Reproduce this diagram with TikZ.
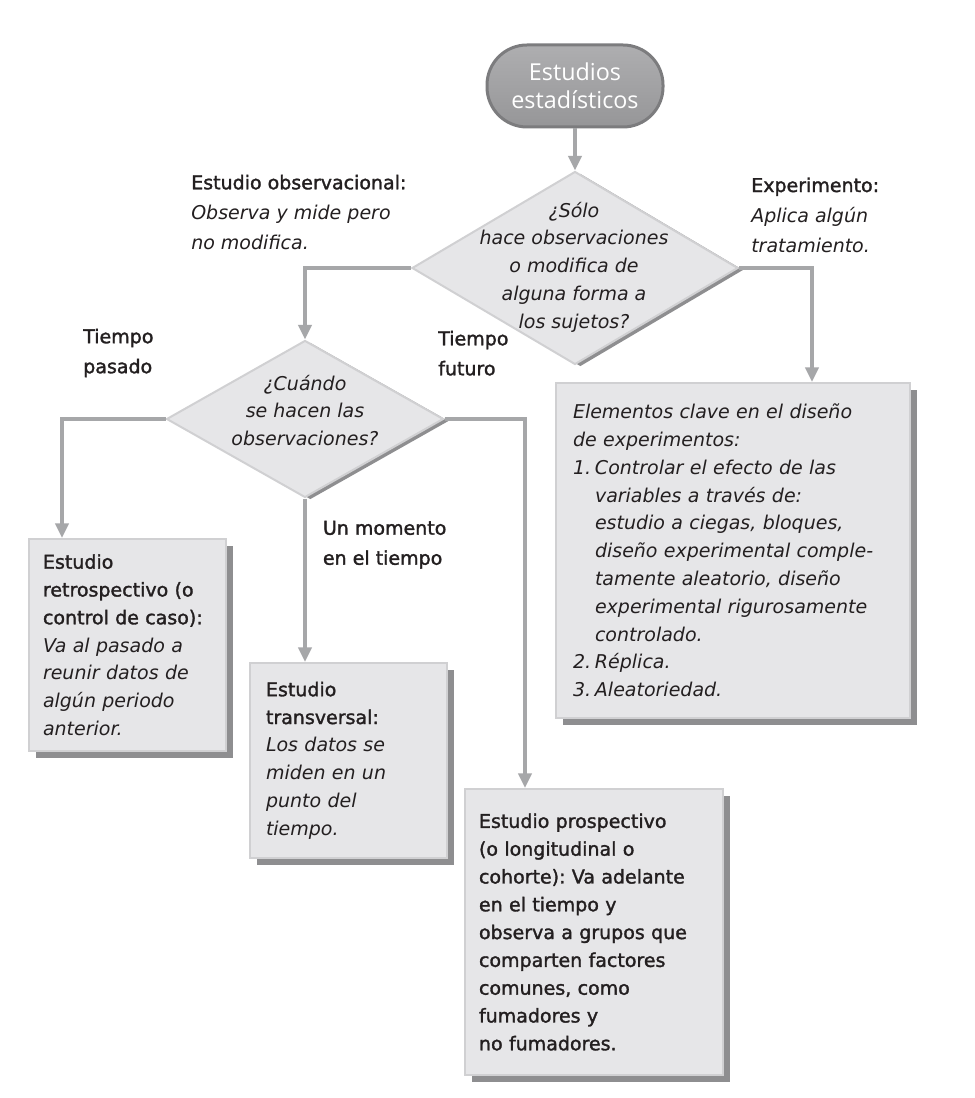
\documentclass[tikz,border=0pt]{standalone}
\usepackage{fontspec}
\setmainfont{DejaVu Sans}[ItalicFont={DejaVu Sans Oblique},BoldFont={DejaVu Sans},BoldFeatures={FakeBold=1.6}]
\newfontfamily\termfont{Open Sans}
\usetikzlibrary{shapes.geometric,arrows.meta,shadows,calc}
\definecolor{linegray}{HTML}{A6A7A9}
\definecolor{boxfill}{HTML}{E6E6E8}
\definecolor{boxrim}{HTML}{D0D0D2}
\definecolor{shadowgray}{HTML}{8E8E90}
\definecolor{inkc}{HTML}{231F20}
\definecolor{termtop}{HTML}{AEAEB0}
\definecolor{termbot}{HTML}{969698}
\definecolor{termrim}{HTML}{7C7C7E}
\newcommand\boxfont{\fontsize{14.25}{20.85}\selectfont}
\newcommand\notefont{\fontsize{14.25}{22.5}\selectfont}
\frenchspacing
\begin{document}
\begin{tikzpicture}[x=0.75pt,y=-0.75pt,
 conn/.style={draw=linegray,line width=2.5pt,-{Triangle[width=10pt,length=11pt]}},
 infobox/.style={rectangle,fill=boxfill,draw=boxrim,line width=1.5pt,
   drop shadow={shadow xshift=5.25pt,shadow yshift=-5.25pt,fill=shadowgray,opacity=1},
   align=left,inner ysep=0pt,anchor=north west,font=\boxfont,text=inkc},
 decision/.style={diamond,fill=boxfill,draw=boxrim,line width=1.5pt,inner sep=0pt,
   drop shadow={shadow xshift=4pt,shadow yshift=-1.5pt,fill=shadowgray,opacity=1}},
 question/.style={align=center,font=\boxfont\itshape,text=inkc,inner sep=0pt},
 sidenote/.style={align=left,font=\notefont,text=inkc,inner sep=0pt,anchor=north west},
 terminal/.style={rectangle,rounded corners=30pt,top color=termtop,bottom color=termbot,
   draw=termrim,line width=2.25pt,minimum width=132pt,minimum height=61.5pt,
   align=center,text=white,font={\termfont\fontsize{17.5}{21}\selectfont}}
]
\fill[white] (0,0) rectangle (974,1098);
\useasboundingbox (0,0) rectangle (974,1098);

% terminal
\node[terminal] (term) at (575,86) {Estudios\\estadísticos};

% decisions
\node[decision,minimum width=244.5pt,minimum height=144.75pt] (d1) at (575,268) {};
\node[question] (q1) at (574,267) {¿Sólo\\hace observaciones\\o modifica de\\alguna forma a\\los sujetos?};
\node[decision,minimum width=207.75pt,minimum height=117.75pt] (d2) at (305,419) {};
\node[question] (q2) at (305,410.5) {¿Cuándo\\se hacen las\\observaciones?};

% boxes
\node[infobox,inner xsep=10.5pt,text width=126.75pt,minimum width=147.75pt,minimum height=159pt] (retro) at (28,538)
 {\textbf{Estudio}\\\textbf{retrospectivo (o}\\\textbf{control de caso):}\\\textit{Va al pasado a}\\\textit{reunir datos de}\\\textit{algún periodo}\\\textit{anterior.}};
\node[infobox,inner xsep=12pt,text width=123.75pt,minimum width=147.75pt,minimum height=146.25pt] (trans) at (249,662)
 {\textbf{Estudio}\\\textbf{transversal:}\\\textit{Los datos se}\\\textit{miden en un}\\\textit{punto del}\\\textit{tiempo.}};
\node[infobox,inner xsep=10.5pt,text width=172.5pt,minimum width=193.5pt,minimum height=214.5pt,font=\boxfont\bfseries] (prosp) at (464,788)
 {Estudio prospectivo\\(o longitudinal o\\cohorte): Va adelante\\en el tiempo y\\observa a grupos que\\comparten factores\\comunes, como\\fumadores y\\no fumadores.};
\node[infobox,inner xsep=12.75pt,text width=240pt,minimum width=265.5pt,minimum height=251.25pt,font=\boxfont\itshape] (elem) at (555,382)
 {Elementos clave en el diseño\\
  de experimentos:\\
  \makebox[16.5pt][l]{1.}Controlar el efecto de las\\
  \hspace*{16.5pt}variables a través de:\\
  \hspace*{16.5pt}estudio a ciegas, bloques,\\
  \hspace*{16.5pt}diseño experimental comple-\\
  \hspace*{16.5pt}tamente aleatorio, diseño\\
  \hspace*{16.5pt}experimental rigurosamente\\
  \hspace*{16.5pt}controlado.\\
  \makebox[16.5pt][l]{2.}Réplica.\\
  \makebox[16.5pt][l]{3.}Aleatoriedad.};

% side notes
\node[sidenote] (obs) at (191,174.6) {\textbf{Estudio observacional:}\\\textit{Observa y mide pero}\\\textit{no modifica.}};
\node[sidenote] (exp) at (751,177.3) {\textbf{Experimento:}\\\textit{Aplica algún}\\\textit{tratamiento.}};
\node[sidenote,font=\notefont\bfseries] (pas) at (83,328.5) {Tiempo\\pasado};
\node[sidenote,font=\notefont\bfseries] (fut) at (438,330.6) {Tiempo\\futuro};
\node[sidenote,font=\notefont\bfseries] (mom) at (322.7,520.6) {Un momento\\en el tiempo};

% connectors
\draw[conn] (term) -- (d1);
\draw[conn] (d1.west) -| (d2.north);
\draw[conn] (d1.east) -| ($(elem.north west)+(257,0)$);
\draw[conn] (d2.west) -| ($(retro.north west)+(34,0)$);
\draw[conn] (d2.south) -- (d2.south |- trans.north);
\draw[conn] (d2.east) -| ($(prosp.north west)+(61,0)$);
\end{tikzpicture}
\end{document}
